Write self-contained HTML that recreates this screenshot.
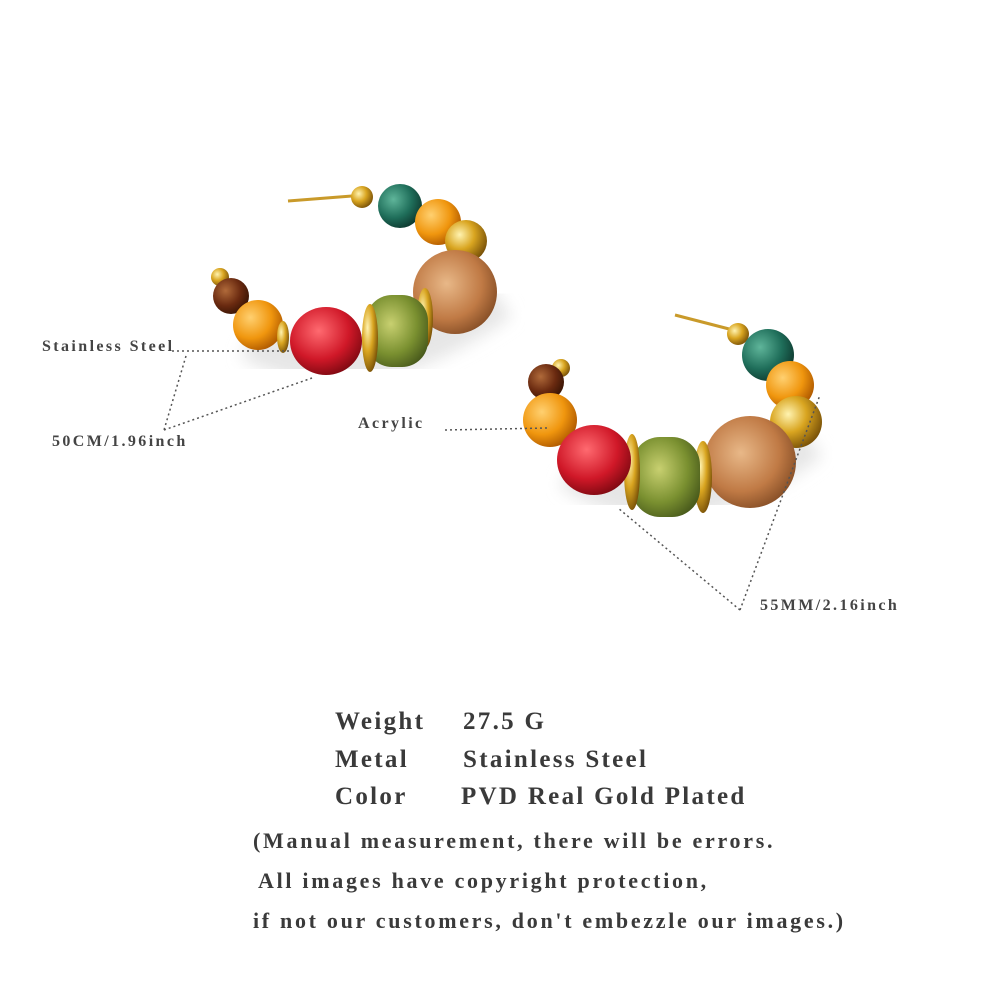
<!DOCTYPE html>
<html><head><meta charset="utf-8"><style>
html,body{margin:0;padding:0;background:#fff;}
#c{position:relative;width:1000px;height:1000px;overflow:hidden;font-family:"Liberation Serif",serif;color:#333;}
.t{position:absolute;white-space:nowrap;font-weight:bold;}
.s{font-size:16px;color:#444;letter-spacing:2.4px;}
.b{font-size:25px;color:#3a3a3a;letter-spacing:2.3px;}
.m{font-size:22px;color:#3a3a3a;letter-spacing:2.7px;}
svg{position:absolute;left:0;top:0;}
</style></head><body><div id="c">
<svg width="1000" height="1000" viewBox="0 0 1000 1000">
<defs>
<radialGradient id="gold" cx="35%" cy="35%" r="70%"><stop offset="0" stop-color="#fff3b0"/><stop offset=".5" stop-color="#d9a520"/><stop offset="1" stop-color="#7a5208"/></radialGradient>
<radialGradient id="teal" cx="35%" cy="35%" r="70%"><stop offset="0" stop-color="#5fb59a"/><stop offset=".6" stop-color="#1f6e5a"/><stop offset="1" stop-color="#0e3a30"/></radialGradient>
<radialGradient id="org" cx="35%" cy="35%" r="70%"><stop offset="0" stop-color="#ffd070"/><stop offset=".6" stop-color="#f0960e"/><stop offset="1" stop-color="#b05a00"/></radialGradient>
<radialGradient id="amb" cx="40%" cy="40%" r="70%"><stop offset="0" stop-color="#e8b888"/><stop offset=".6" stop-color="#c07a45"/><stop offset="1" stop-color="#7a4520"/></radialGradient>
<radialGradient id="grn" cx="40%" cy="40%" r="70%"><stop offset="0" stop-color="#c8d070"/><stop offset=".6" stop-color="#7a9030"/><stop offset="1" stop-color="#45561a"/></radialGradient>
<radialGradient id="red" cx="40%" cy="35%" r="70%"><stop offset="0" stop-color="#ff6a70"/><stop offset=".6" stop-color="#d01828"/><stop offset="1" stop-color="#7a0810"/></radialGradient>
<radialGradient id="brn" cx="35%" cy="35%" r="70%"><stop offset="0" stop-color="#b06a3a"/><stop offset=".6" stop-color="#6a2a10"/><stop offset="1" stop-color="#3a1505"/></radialGradient>
<filter id="sh"><feGaussianBlur stdDeviation="8"/></filter>
</defs>
<path d="M250 340 Q360 400 500 300" stroke="#e6e6e6" stroke-width="40" fill="none" filter="url(#sh)"/>
<path d="M570 470 Q680 540 810 440" stroke="#e6e6e6" stroke-width="40" fill="none" filter="url(#sh)"/>
<line x1="288" y1="201" x2="352" y2="196" stroke="#c99a2a" stroke-width="3"/>
<circle cx="220" cy="277" r="9" fill="url(#gold)"/>
<circle cx="231" cy="296" r="18" fill="url(#brn)"/>
<circle cx="258" cy="325" r="25" fill="url(#org)"/>
<ellipse cx="283" cy="337" rx="6" ry="16" fill="url(#gold)"/>
<circle cx="362" cy="197" r="11" fill="url(#gold)"/>
<circle cx="400" cy="206" r="22" fill="url(#teal)"/>
<circle cx="438" cy="222" r="23" fill="url(#org)"/>
<circle cx="466" cy="241" r="21" fill="url(#gold)"/>
<circle cx="455" cy="292" r="42" fill="url(#amb)"/>
<ellipse cx="425" cy="318" rx="8" ry="30" fill="url(#gold)"/>
<rect x="366" y="295" width="62" height="72" rx="26" fill="url(#grn)"/>
<ellipse cx="370" cy="338" rx="8" ry="34" fill="url(#gold)"/>
<ellipse cx="326" cy="341" rx="36" ry="34" fill="url(#red)"/>
<line x1="675" y1="315" x2="733" y2="330" stroke="#c99a2a" stroke-width="3"/>
<circle cx="561" cy="368" r="9" fill="url(#gold)"/>
<circle cx="546" cy="382" r="18" fill="url(#brn)"/>
<circle cx="550" cy="420" r="27" fill="url(#org)"/>
<circle cx="738" cy="334" r="11" fill="url(#gold)"/>
<circle cx="768" cy="355" r="26" fill="url(#teal)"/>
<circle cx="790" cy="385" r="24" fill="url(#org)"/>
<circle cx="796" cy="422" r="26" fill="url(#gold)"/>
<circle cx="750" cy="462" r="46" fill="url(#amb)"/>
<ellipse cx="703" cy="477" rx="9" ry="36" fill="url(#gold)"/>
<rect x="632" y="437" width="68" height="80" rx="28" fill="url(#grn)"/>
<ellipse cx="632" cy="472" rx="8" ry="38" fill="url(#gold)"/>
<ellipse cx="594" cy="460" rx="37" ry="35" fill="url(#red)"/>
<g stroke="#555" stroke-width="1.5" stroke-dasharray="2 3" fill="none">
<line x1="172" y1="351" x2="292" y2="351"/>
<line x1="186" y1="356" x2="164" y2="430"/>
<line x1="164" y1="430" x2="312" y2="378"/>
<line x1="445" y1="430" x2="548" y2="428"/>
<line x1="740" y1="610" x2="618" y2="508"/>
<line x1="740" y1="610" x2="820" y2="395"/>
</g>
</svg>
<div class="t s" style="left:42px;top:338px;">Stainless Steel</div>
<div class="t s" style="left:52px;top:433px;">50CM/1.96inch</div>
<div class="t s" style="left:358px;top:415px;">Acrylic</div>
<div class="t s" style="left:760px;top:597px;">55MM/2.16inch</div>
<div class="t b" style="left:335px;top:708px;">Weight</div>
<div class="t b" style="left:463px;top:708px;">27.5 G</div>
<div class="t b" style="left:335px;top:746px;">Metal</div>
<div class="t b" style="left:463px;top:746px;">Stainless Steel</div>
<div class="t b" style="left:335px;top:783px;">Color</div>
<div class="t b" style="left:461px;top:783px;">PVD Real Gold Plated</div>
<div class="t m" style="left:253px;top:828px;">(Manual measurement, there will be errors.</div>
<div class="t m" style="left:258px;top:868px;">All images have copyright protection,</div>
<div class="t m" style="left:253px;top:908px;">if not our customers, don't embezzle our images.)</div>
</div></body></html>
